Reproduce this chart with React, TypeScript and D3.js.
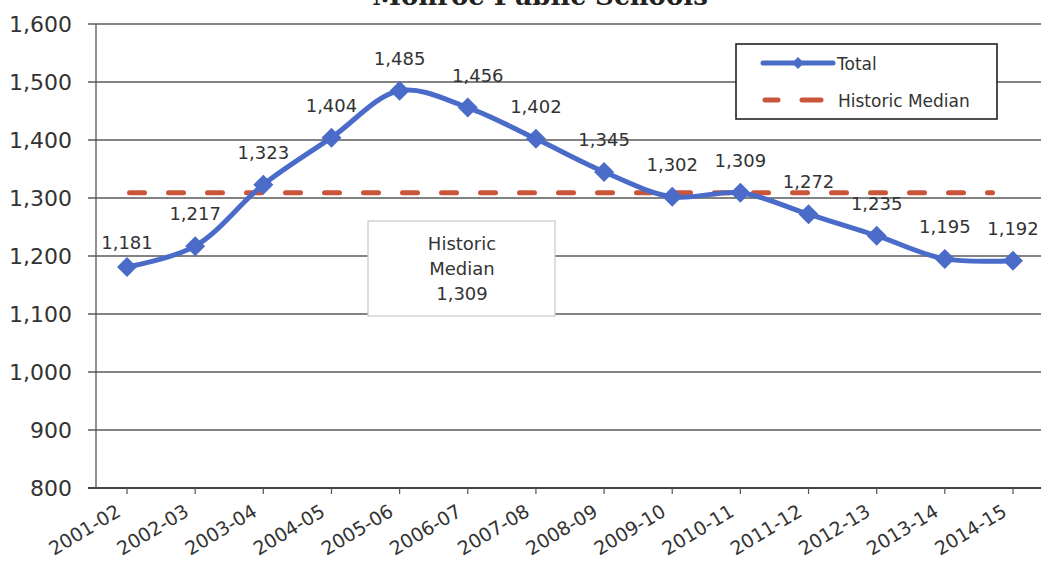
import React from "react";
import * as d3 from "d3";

const categories = [
  "2001-02", "2002-03", "2003-04", "2004-05", "2005-06", "2006-07", "2007-08",
  "2008-09", "2009-10", "2010-11", "2011-12", "2012-13", "2013-14", "2014-15",
];
const totalValues = [1181, 1217, 1323, 1404, 1485, 1456, 1402, 1345, 1302, 1309, 1272, 1235, 1195, 1192];
const medianValues = [1309, 1309, 1309, 1309, 1309, 1309, 1309, 1309, 1309, 1309, 1309, 1309, 1309];
const yTicks = [800, 900, 1000, 1100, 1200, 1300, 1400, 1500, 1600];
const titleText = "Monroe Public Schools";
const legendLabels = ["Total", "Historic Median"];
const medianNote = ["Historic", "Median", "1,309"];

const W = 1041;
const H = 570;
const FONT = "'DejaVu Sans', sans-serif";
const TEXT = "#333";
const BLUE = "#4a6bc8";
const RED = "#c9553b";

export default function App() {
  const x = d3.scalePoint<string>().domain(categories).range([96, 1044]).padding(0.455);
  const y = d3.scaleLinear().domain([800, 1600]).range([488, 24]);
  const step = x.step();
  const fmt = d3.format(",");

  const line = d3
    .line<number>()
    .x((_, i) => x(categories[i]) as number)
    .y((d) => y(d))
    .curve(d3.curveCatmullRom.alpha(0.5));

  const medX0 = x(categories[0]) as number;
  const medX1 = (x(categories[medianValues.length - 1]) as number) + step * 0.7;
  const medY = y(medianValues[0]);

  const diamond = d3.symbol().type(d3.symbolSquare).size(200)() as string;

  const plotLeft = 96;
  const baseY = y(800);

  return (
    <svg
      width={W}
      height={H}
      style={{ position: "absolute", left: 0, top: 0, background: "#fff" }}
      fontFamily={FONT}
    >
      <rect x={0} y={0} width={W} height={H} fill="#fff" />
      {/* Title (partly above the top edge, as in the scan) */}
      <text x={540} y={5} textAnchor="middle" fontFamily="'DejaVu Serif', serif" fontWeight="bold" fontSize={26} fill="#222">
        {titleText}
      </text>

      {/* gridlines */}
      {yTicks.map((t) => (
        <g key={t}>
          <line x1={plotLeft - 8} x2={W} y1={y(t)} y2={y(t)} stroke={t === 800 ? "#444" : "#5a5a5a"} strokeWidth={t === 800 ? 1.8 : 1.3} />
          <text x={72} y={y(t) + 8} textAnchor="end" fontSize={22} fill={TEXT}>
            {fmt(t)}
          </text>
        </g>
      ))}
      {/* y axis */}
      <line x1={plotLeft} x2={plotLeft} y1={y(1600)} y2={baseY} stroke="#555" strokeWidth={1.3} />

      {/* x ticks and labels */}
      {categories.map((c) => {
        const cx = x(c) as number;
        return (
          <g key={c}>
            <line x1={cx} x2={cx} y1={baseY} y2={baseY + 6} stroke="#555" strokeWidth={1.2} />
            <text
              transform={`translate(${cx - 5},${baseY + 27}) rotate(-31)`}
              textAnchor="end"
              fontSize={19}
              fill={TEXT}
            >
              {c}
            </text>
          </g>
        );
      })}

      {/* Historic median note box */}
      <rect x={368} y={221} width={187} height={95} fill="#fff" stroke="#c8c8c8" strokeWidth={1.2} />
      {medianNote.map((t, i) => (
        <text key={t} x={462} y={250 + i * 25} textAnchor="middle" fontSize={18} fill={TEXT}>
          {t}
        </text>
      ))}

      {/* median dashed line */}
      <line
        x1={medX0 + 2.5}
        x2={medX1}
        y1={medY}
        y2={medY}
        stroke={RED}
        strokeWidth={5}
        strokeDasharray="15 24"
        strokeLinecap="round"
      />

      {/* total line */}
      <path d={line(totalValues) as string} fill="none" stroke={BLUE} strokeWidth={5} strokeLinejoin="round" />
      {totalValues.map((v, i) => (
        <path
          key={i}
          d={diamond}
          transform={`translate(${x(categories[i])},${y(v)}) rotate(45)`}
          fill={BLUE}
        />
      ))}

      {/* data labels */}
      {totalValues.map((v, i) => (
        <text
          key={"l" + i}
          x={(x(categories[i]) as number) + (i === 5 ? 10 : 0)}
          y={y(v) - (i === 0 ? 18 : 26)}
          textAnchor="middle"
          fontSize={18}
          fill={TEXT}
        >
          {fmt(v)}
        </text>
      ))}

      {/* legend */}
      <rect x={736} y={44} width={261} height={75} fill="#fff" stroke="#222" strokeWidth={1.6} />
      <line x1={763} x2={833} y1={63} y2={63} stroke={BLUE} strokeWidth={5} strokeLinecap="round" />
      <path d={diamond} transform="translate(798,63) rotate(45) scale(0.6)" fill={BLUE} />
      <text x={837} y={70} fontSize={17} fill={TEXT}>
        {legendLabels[0]}
      </text>
      <line x1={765} x2={778} y1={100} y2={100} stroke={RED} strokeWidth={5} strokeLinecap="round" />
      <line x1={802} x2={821} y1={100} y2={100} stroke={RED} strokeWidth={5} strokeLinecap="round" />
      <text x={838} y={107} fontSize={17} fill={TEXT}>
        {legendLabels[1]}
      </text>
    </svg>
  );
}
